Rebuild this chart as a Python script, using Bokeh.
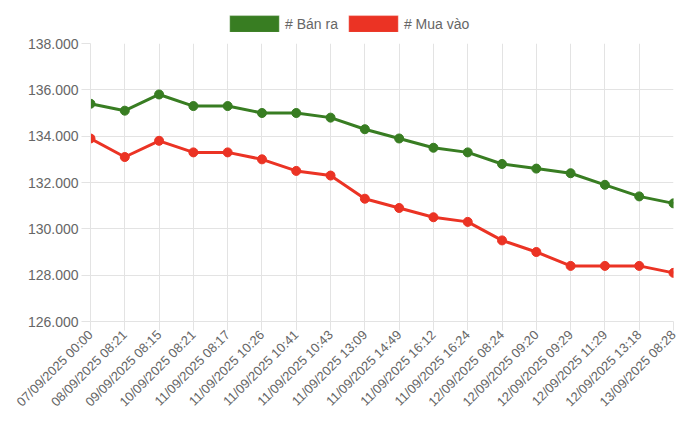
import math
from bokeh.plotting import figure
from bokeh.layouts import column
from bokeh.models import Range1d, FixedTicker, Legend, LegendItem, ColumnDataSource
from bokeh.embed import file_html
from bokeh.resources import INLINE

labels = ["07/09/2025 00:00", "08/09/2025 08:21", "09/09/2025 08:15", "10/09/2025 08:21",
          "11/09/2025 08:17", "11/09/2025 10:26", "11/09/2025 10:41", "11/09/2025 10:43",
          "11/09/2025 13:09", "11/09/2025 14:49", "11/09/2025 16:12", "11/09/2025 16:24",
          "12/09/2025 08:24", "12/09/2025 09:20", "12/09/2025 09:29", "12/09/2025 11:29",
          "12/09/2025 13:18", "13/09/2025 08:28"]
ban_ra = [135400, 135100, 135800, 135300, 135300, 135000, 135000, 134800, 134300,
          133900, 133500, 133300, 132800, 132600, 132400, 131900, 131400, 131100]
mua_vao = [133900, 133100, 133800, 133300, 133300, 133000, 132500, 132300, 131300,
           130900, 130500, 130300, 129500, 129000, 128400, 128400, 128400, 128100]
y_ticks = [126000, 128000, 130000, 132000, 134000, 136000, 138000]
y_tick_labels = ["126.000", "128.000", "130.000", "132.000", "134.000", "136.000", "138.000"]
series_names = ["# Bán ra", "# Mua vào"]

GREEN = "#387D22"
RED = "#EB3324"
FONT = "Liberation Sans"
GRID = "#e3e3e3"

idx = list(range(len(labels)))

# ---- legend strip (proxy quads sit outside the visible range) ----
lg = figure(width=700, height=32, output_backend="svg", toolbar_location=None,
            x_range=Range1d(0, 1), y_range=Range1d(0, 1),
            min_border_left=90, min_border_right=27,
            min_border_top=0, min_border_bottom=0)
lg.axis.visible = False
lg.grid.visible = False
lg.outline_line_color = None
proxy = ColumnDataSource(dict(l=[-3], r=[-2], t=[-2], b=[-3]))
g1 = lg.quad(left="l", right="r", top="t", bottom="b", source=proxy,
             fill_color=GREEN, line_color="#ffffff", line_alpha=0.35)
g2 = lg.quad(left="l", right="r", top="t", bottom="b", source=proxy,
             fill_color=RED, line_color="#ffffff", line_alpha=0.35)
legend = Legend(items=[LegendItem(label=series_names[0], renderers=[g1]),
                       LegendItem(label=series_names[1], renderers=[g2])],
                orientation="horizontal", location=(133, -2),
                glyph_width=62, glyph_height=21, label_standoff=0, spacing=4,
                padding=0, margin=0, border_line_color=None, background_fill_alpha=0,
                label_text_font=FONT, label_text_font_size="14px", label_text_color="#666666",
                label_height=21)
lg.add_layout(legend, "center")

# ---- main chart ----
p = figure(width=700, height=407, output_backend="svg", toolbar_location=None,
           x_range=Range1d(0, len(labels) - 1), y_range=Range1d(y_ticks[0], y_ticks[-1]),
           min_border_left=90, min_border_right=27, min_border_top=11, min_border_bottom=118)
p.outline_line_color = None

src = ColumnDataSource(dict(x=idx, b=ban_ra, m=mua_vao))
p.line("x", "b", source=src, line_color=GREEN, line_width=3)
p.scatter("x", "b", source=src, size=9, fill_color=GREEN, line_color=GREEN)
p.line("x", "m", source=src, line_color=RED, line_width=3)
p.scatter("x", "m", source=src, size=9, fill_color=RED, line_color=RED)

p.xaxis.ticker = FixedTicker(ticks=idx)
p.xaxis.major_label_overrides = {i: s for i, s in zip(idx, labels)}
p.xaxis.major_label_orientation = math.pi / 4
p.yaxis.ticker = FixedTicker(ticks=y_ticks)
p.yaxis.major_label_overrides = {t: s for t, s in zip(y_ticks, y_tick_labels)}
for ax in (p.xaxis, p.yaxis):
    ax.axis_line_color = GRID
    ax.major_tick_line_color = GRID
    ax.major_tick_out = 9
    ax.major_tick_in = 0
    ax.minor_tick_line_color = None
    ax.major_label_text_font = FONT
    ax.major_label_text_color = "#666666"
p.yaxis.major_label_text_font_size = "14px"
p.xaxis.major_label_text_font_size = "13px"
p.yaxis.major_label_standoff = 3
p.xaxis.major_label_standoff = 2
p.xgrid.grid_line_color = GRID
p.ygrid.grid_line_color = GRID

layout = column(lg, p, spacing=0)
open("out.html", "w").write(file_html(layout, INLINE))
